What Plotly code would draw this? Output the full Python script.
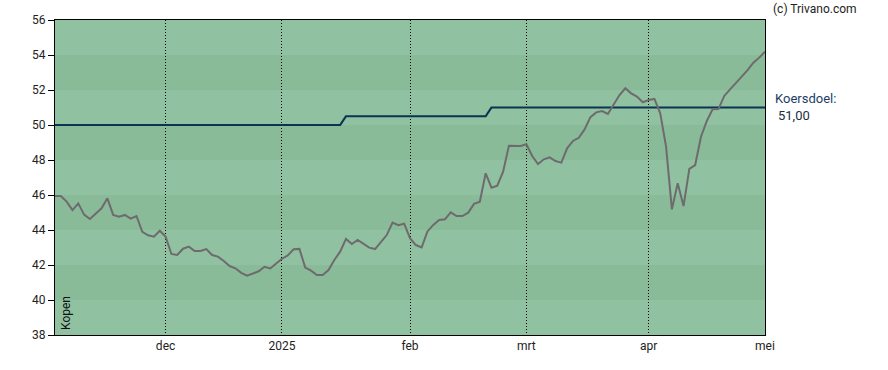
import pandas as pd
import plotly.graph_objects as go

# ---- data ----
holidays = ["2024-12-25", "2024-12-26", "2025-01-01", "2025-04-18", "2025-04-21", "2025-05-01"]
dates = [d for d in pd.bdate_range("2024-11-05", "2025-05-02") if d.strftime("%Y-%m-%d") not in holidays]

price = [
    45.94, 45.94, 45.62, 45.14, 45.52, 44.88, 44.63, 44.91, 45.24, 45.81,
    44.86, 44.76, 44.86, 44.65, 44.80, 43.90, 43.70, 43.62, 43.96, 43.62,
    42.63, 42.57, 42.93, 43.05, 42.80, 42.80, 42.91, 42.57, 42.48, 42.23,
    41.94, 41.81, 41.55, 41.39, 41.51, 41.64, 41.90, 41.80, 42.08, 42.36,
    42.55, 42.90, 42.92, 41.85, 41.68, 41.43, 41.43, 41.71, 42.29, 42.76,
    43.49, 43.20, 43.43, 43.20, 42.99, 42.91, 43.30, 43.71, 44.42, 44.27,
    44.36, 43.53, 43.14, 43.01, 43.92, 44.29, 44.57, 44.61, 45.01, 44.80,
    44.80, 44.99, 45.49, 45.62, 47.24, 46.42, 46.53, 47.33, 48.82, 48.82,
    48.80, 48.90, 48.23, 47.77, 48.04, 48.15, 47.94, 47.85, 48.67, 49.09,
    49.27, 49.75, 50.45, 50.72, 50.80, 50.63, 51.18, 51.71, 52.10, 51.81,
    51.62, 51.30, 51.43, 51.49, 50.67, 48.76, 45.18, 46.67, 45.37, 47.49,
    47.71, 49.33, 50.23, 50.90, 50.91, 51.66, 52.04, 52.38, 52.76, 53.14,
    53.56, 53.85, 54.19,
]
target = [50.0] * 50 + [50.5] * 25 + [51.0] * 48

month_labels = ["dec", "2025", "feb", "mrt", "apr", "mei"]
y_ticks = [38, 40, 42, 44, 46, 48, 50, 52, 54, 56]
target_label = "Koersdoel:"
target_value_text = "51,00"
advice = "Kopen"
credit = "(c) Trivano.com"

# ---- derived ----
x = list(range(len(price)))
month_starts = []
prev = None
for i, d in enumerate(dates):
    if prev is not None and d.month != prev:
        month_starts.append(i)
    prev = d.month

LIGHT = "#90c2a1"
DARK = "#89bb99"

fig = go.Figure()
fig.add_trace(go.Scatter(x=x, y=target, mode="lines",
                         line=dict(color="#0b3352", width=2.2), hoverinfo="skip"))
fig.add_trace(go.Scatter(x=x, y=price, mode="lines",
                         line=dict(color="#6e6b6f", width=2), hoverinfo="skip"))

shapes = []
for k in range(len(y_ticks) - 1):
    shapes.append(dict(type="rect", xref="paper", yref="y", x0=0, x1=1,
                       y0=y_ticks[k], y1=y_ticks[k + 1], line=dict(width=0),
                       fillcolor=LIGHT if k % 2 == 0 else DARK, layer="below"))

fig.update_layout(
    width=888, height=370,
    margin=dict(l=55, r=123, t=20, b=35),
    paper_bgcolor="white", plot_bgcolor=LIGHT,
    showlegend=False,
    shapes=shapes,
    font=dict(family="Roboto, Arial, sans-serif", size=12, color="#222"),
    xaxis=dict(range=[0, len(price) - 1], tickmode="array",
               tickvals=month_starts, ticktext=month_labels,
               showgrid=True, gridcolor="black", gridwidth=1, griddash="1px,2px",
               showline=True, linecolor="black", linewidth=1, mirror=True,
               ticks="", zeroline=False, tickfont=dict(size=12, color="#222"),
               layer="above traces"),
    yaxis=dict(range=[38, 56], tickmode="array", tickvals=y_ticks,
               showgrid=False, showline=True, linecolor="black", linewidth=1,
               mirror=True, ticks="outside", ticklen=6, tickcolor="black",
               zeroline=False, tickfont=dict(size=12, color="#222")),
    annotations=[
        dict(text=target_label, xref="paper", yref="y", x=1.011, y=target[-1] + 0.51,
             xanchor="left", yanchor="middle", showarrow=False,
             font=dict(size=13, color="#1d3d66")),
        dict(text=target_value_text, xref="paper", yref="y", x=1.0155, y=target[-1] - 0.47,
             xanchor="left", yanchor="middle", showarrow=False,
             font=dict(size=13, color="#1d2d40")),
        dict(text=credit, xref="paper", yref="paper", x=1.009, y=1.036,
             xanchor="left", yanchor="middle", showarrow=False,
             font=dict(size=12, color="#222")),
        dict(text=advice, xref="paper", yref="paper", x=0.003, y=0.01,
             xanchor="left", yanchor="bottom", textangle=-90, showarrow=False,
             font=dict(size=12, color="#111")),
    ],
)

fig.write_html("out.html", config={"displayModeBar": False},
               post_script="document.body.style.margin='0';")
